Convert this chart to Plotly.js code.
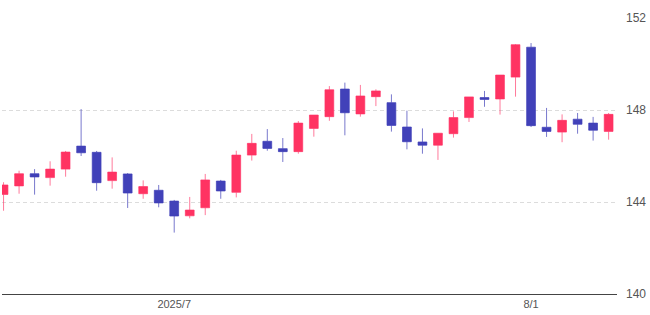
<!DOCTYPE html>
<html>
<head>
<meta charset="utf-8">
<script src="https://cdn.plot.ly/plotly-3.0.1.min.js"></script>
<style>html,body{margin:0;padding:0;background:#fff}#chart{width:650px;height:315px}</style>
</head>
<body>
<div id="chart"></div>
<script>
const dates = ["2025-06-16","2025-06-17","2025-06-18","2025-06-19","2025-06-20",
  "2025-06-23","2025-06-24","2025-06-25","2025-06-26","2025-06-27","2025-06-30",
  "2025-07-01","2025-07-02","2025-07-03","2025-07-04","2025-07-07","2025-07-08",
  "2025-07-09","2025-07-10","2025-07-11","2025-07-14","2025-07-15","2025-07-16",
  "2025-07-17","2025-07-18","2025-07-21","2025-07-22","2025-07-23","2025-07-24",
  "2025-07-25","2025-07-28","2025-07-29","2025-07-30","2025-07-31","2025-08-01",
  "2025-08-04","2025-08-05","2025-08-06","2025-08-07","2025-08-08"];
const openV  = [144.33,144.70,145.23,145.06,145.43,146.43,146.16,144.93,145.22,144.36,
  144.51,144.04,143.40,143.75,144.91,144.42,146.04,146.64,146.32,146.19,
  147.20,147.71,148.91,147.83,148.58,148.32,147.26,146.61,146.47,146.97,
  147.67,148.54,148.48,149.43,150.73,147.25,147.04,147.60,147.43,147.07];
const highV  = [144.86,145.36,145.43,145.77,146.22,148.04,146.22,145.94,145.26,144.94,
  144.74,144.09,144.22,145.22,144.96,146.23,146.96,147.17,146.78,147.52,
  147.78,149.04,149.19,149.09,148.90,148.68,147.97,147.20,146.99,147.94,
  148.57,148.83,149.52,150.87,150.91,148.09,147.81,147.87,147.70,147.87];
const lowV   = [143.62,144.36,144.32,144.71,145.10,146.00,144.49,144.58,143.74,144.14,
  143.77,142.67,143.29,143.43,144.14,144.20,145.80,146.23,145.74,146.10,
  146.84,147.53,146.90,147.71,148.17,147.06,146.29,146.10,145.83,146.80,
  147.48,148.14,147.80,148.58,147.26,146.83,146.60,146.97,146.67,146.71];
const closeV = [144.74,145.23,145.09,145.43,146.17,146.14,144.84,145.30,144.39,144.67,
  143.96,143.39,143.65,144.96,144.48,146.04,146.55,146.33,146.19,147.43,
  147.78,148.88,147.88,148.61,148.83,147.33,146.62,146.47,146.99,147.67,
  148.57,148.46,149.52,150.84,147.32,147.07,147.55,147.38,147.12,147.81];
const tickDates = ["2025-07-01","2025-08-01"];
const tickLabels = ["2025/7","8/1"];
const yTicks = [140,144,148,152];

const trace = {
  type: "candlestick",
  x: dates, open: openV, high: highV, low: lowV, close: closeV,
  increasing: {line: {color: "rgba(255,51,102,0.65)", width: 1}, fillcolor: "#FF3362"},
  decreasing: {line: {color: "rgba(64,64,184,0.7)", width: 1}, fillcolor: "#4141B9"},
  whiskerwidth: 0,
  hoverinfo: "none"
};
const layout = {
  width: 650, height: 315,
  margin: {l: 2, r: 33, t: 18, b: 21},
  paper_bgcolor: "#fff", plot_bgcolor: "#fff",
  showlegend: false,
  boxgap: 0.19,
  font: {family: "Liberation Sans, Arial, sans-serif", color: "#555", size: 12},
  xaxis: {
    type: "category",
    range: [-0.1, 39.54],
    rangeslider: {visible: false},
    tickvals: tickDates, ticktext: tickLabels,
    showgrid: false, ticks: "",
    showline: true, linecolor: "#444", linewidth: 1,
    tickfont: {size: 11, color: "#555"},
    fixedrange: true
  },
  yaxis: {
    side: "right",
    range: [140, 152],
    tickvals: yTicks,
    showgrid: true, gridcolor: "#dcdcdc", griddash: "4px,3px", gridwidth: 1,
    zeroline: false, showline: false, ticks: "",
    tickfont: {size: 12, color: "#555"},
    ticklabelstandoff: 8,
    fixedrange: true
  }
};
Plotly.newPlot("chart", [trace], layout, {staticPlot: true, displayModeBar: false});
</script>
</body>
</html>
